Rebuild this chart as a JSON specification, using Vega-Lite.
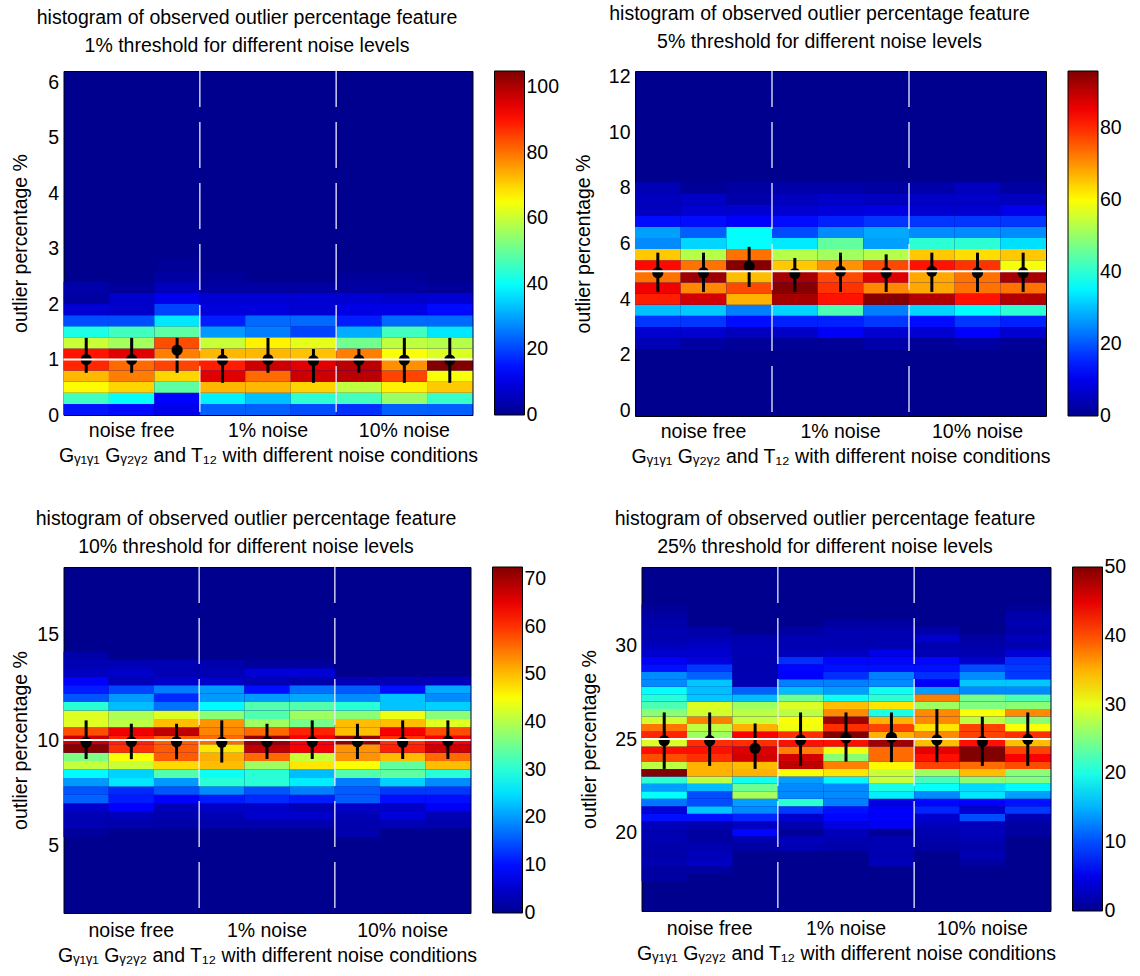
{
  "$schema": "https://vega.github.io/schema/vega-lite/v6.json",
  "background": "white",
  "padding": {"left": 9.5, "top": 3, "right": 0, "bottom": 0},
  "config": {
    "font": "Liberation Sans",
    "view": {"stroke": "black", "strokeWidth": 1, "fill": "#00008F"},
    "axis": {"labelFontSize": 19.5, "titleFontSize": 19.5, "titleFontWeight": "normal", "labelColor": "black", "titleColor": "black", "ticks": false, "tickSize": 0, "domain": false, "grid": false, "labelPadding": 5},
    "legend": {"type": "gradient", "labelFontSize": 19.5, "labelColor": "black", "gradientThickness": 30, "gradientStrokeColor": "black", "gradientStrokeWidth": 1, "offset": 22, "padding": 0, "labelOffset": 5, "labelAlign": "left"},
    "title": {"fontSize": 19.5, "fontWeight": "normal", "color": "black", "lineHeight": 28, "anchor": "middle", "frame": "group", "offset": 14, "dx": -21}
  },
  "datasets": {
    "h1": [
      {"c":1,"lo":0,"hi":0.2,"n":15},{"c":1,"lo":0.2,"hi":0.4,"n":46},{"c":1,"lo":0.4,"hi":0.6,"n":66},{"c":1,"lo":0.6,"hi":0.8,"n":73},{"c":1,"lo":0.8,"hi":1,"n":88},{"c":1,"lo":1,"hi":1.2,"n":90},{"c":1,"lo":1.2,"hi":1.4,"n":60},{"c":1,"lo":1.4,"hi":1.6,"n":42},{"c":1,"lo":1.6,"hi":1.8,"n":21},{"c":1,"lo":1.8,"hi":2,"n":8},{"c":1,"lo":2,"hi":2.2,"n":2},{"c":1,"lo":2.2,"hi":2.4,"n":3},
      {"c":2,"lo":0,"hi":0.2,"n":14},{"c":2,"lo":0.2,"hi":0.4,"n":40},{"c":2,"lo":0.4,"hi":0.6,"n":70},{"c":2,"lo":0.6,"hi":0.8,"n":79},{"c":2,"lo":0.8,"hi":1,"n":81},{"c":2,"lo":1,"hi":1.2,"n":95},{"c":2,"lo":1.2,"hi":1.4,"n":56},{"c":2,"lo":1.4,"hi":1.6,"n":46},{"c":2,"lo":1.6,"hi":1.8,"n":21},{"c":2,"lo":1.8,"hi":2,"n":7},{"c":2,"lo":2,"hi":2.2,"n":7},{"c":2,"lo":2.2,"hi":2.4,"n":1},
      {"c":3,"lo":0,"hi":0.2,"n":11},{"c":3,"lo":0.2,"hi":0.4,"n":13},{"c":3,"lo":0.4,"hi":0.6,"n":49},{"c":3,"lo":0.6,"hi":0.8,"n":70},{"c":3,"lo":0.8,"hi":1,"n":85},{"c":3,"lo":1,"hi":1.2,"n":79},{"c":3,"lo":1.2,"hi":1.4,"n":84},{"c":3,"lo":1.4,"hi":1.6,"n":49},{"c":3,"lo":1.6,"hi":1.8,"n":37},{"c":3,"lo":1.8,"hi":2,"n":20},{"c":3,"lo":2,"hi":2.2,"n":11},{"c":3,"lo":2.2,"hi":2.4,"n":5},{"c":3,"lo":2.4,"hi":2.6,"n":2},{"c":3,"lo":2.6,"hi":2.8,"n":1},
      {"c":4,"lo":0,"hi":0.2,"n":23},{"c":4,"lo":0.2,"hi":0.4,"n":38},{"c":4,"lo":0.4,"hi":0.6,"n":73},{"c":4,"lo":0.6,"hi":0.8,"n":95},{"c":4,"lo":0.8,"hi":1,"n":89},{"c":4,"lo":1,"hi":1.2,"n":73},{"c":4,"lo":1.2,"hi":1.4,"n":60},{"c":4,"lo":1.4,"hi":1.6,"n":29},{"c":4,"lo":1.6,"hi":1.8,"n":16},{"c":4,"lo":1.8,"hi":2,"n":9},{"c":4,"lo":2,"hi":2.2,"n":8},{"c":4,"lo":2.2,"hi":2.4,"n":2},{"c":4,"lo":2.4,"hi":2.6,"n":1},
      {"c":5,"lo":0,"hi":0.2,"n":23},{"c":5,"lo":0.2,"hi":0.4,"n":33},{"c":5,"lo":0.4,"hi":0.6,"n":73},{"c":5,"lo":0.6,"hi":0.8,"n":81},{"c":5,"lo":0.8,"hi":1,"n":97},{"c":5,"lo":1,"hi":1.2,"n":73},{"c":5,"lo":1.2,"hi":1.4,"n":67},{"c":5,"lo":1.4,"hi":1.6,"n":26},{"c":5,"lo":1.6,"hi":1.8,"n":24},{"c":5,"lo":1.8,"hi":2,"n":9},{"c":5,"lo":2,"hi":2.2,"n":8},{"c":5,"lo":2.2,"hi":2.4,"n":2},
      {"c":6,"lo":0,"hi":0.2,"n":21},{"c":6,"lo":0.2,"hi":0.4,"n":44},{"c":6,"lo":0.4,"hi":0.6,"n":70},{"c":6,"lo":0.6,"hi":0.8,"n":97},{"c":6,"lo":0.8,"hi":1,"n":95},{"c":6,"lo":1,"hi":1.2,"n":72},{"c":6,"lo":1.2,"hi":1.4,"n":63},{"c":6,"lo":1.4,"hi":1.6,"n":20},{"c":6,"lo":1.6,"hi":1.8,"n":24},{"c":6,"lo":1.8,"hi":2,"n":8},{"c":6,"lo":2,"hi":2.2,"n":8},{"c":6,"lo":2.2,"hi":2.4,"n":2},
      {"c":7,"lo":0,"hi":0.2,"n":18},{"c":7,"lo":0.2,"hi":0.4,"n":46},{"c":7,"lo":0.4,"hi":0.6,"n":59},{"c":7,"lo":0.6,"hi":0.8,"n":99},{"c":7,"lo":0.8,"hi":1,"n":99},{"c":7,"lo":1,"hi":1.2,"n":79},{"c":7,"lo":1.2,"hi":1.4,"n":51},{"c":7,"lo":1.4,"hi":1.6,"n":31},{"c":7,"lo":1.6,"hi":1.8,"n":16},{"c":7,"lo":1.8,"hi":2,"n":10},{"c":7,"lo":2,"hi":2.2,"n":8},{"c":7,"lo":2.2,"hi":2.4,"n":2},{"c":7,"lo":2.4,"hi":2.6,"n":1},
      {"c":8,"lo":0,"hi":0.2,"n":23},{"c":8,"lo":0.2,"hi":0.4,"n":55},{"c":8,"lo":0.4,"hi":0.6,"n":67},{"c":8,"lo":0.6,"hi":0.8,"n":85},{"c":8,"lo":0.8,"hi":1,"n":77},{"c":8,"lo":1,"hi":1.2,"n":65},{"c":8,"lo":1.2,"hi":1.4,"n":59},{"c":8,"lo":1.4,"hi":1.6,"n":46},{"c":8,"lo":1.6,"hi":1.8,"n":24},{"c":8,"lo":1.8,"hi":2,"n":10},{"c":8,"lo":2,"hi":2.2,"n":7},{"c":8,"lo":2.2,"hi":2.4,"n":2},{"c":8,"lo":2.4,"hi":2.6,"n":1},
      {"c":9,"lo":0,"hi":0.2,"n":23},{"c":9,"lo":0.2,"hi":0.4,"n":45},{"c":9,"lo":0.4,"hi":0.6,"n":71},{"c":9,"lo":0.6,"hi":0.8,"n":65},{"c":9,"lo":0.8,"hi":1,"n":105},{"c":9,"lo":1,"hi":1.2,"n":62},{"c":9,"lo":1.2,"hi":1.4,"n":58},{"c":9,"lo":1.4,"hi":1.6,"n":37},{"c":9,"lo":1.6,"hi":1.8,"n":24},{"c":9,"lo":1.8,"hi":2,"n":14},{"c":9,"lo":2,"hi":2.2,"n":8},{"c":9,"lo":2.2,"hi":2.4,"n":1}
    ],
    "h2": [
      {"c":1,"lo":2.2,"hi":2.6,"n":4},{"c":1,"lo":2.6,"hi":3,"n":7},{"c":1,"lo":3,"hi":3.4,"n":17},{"c":1,"lo":3.4,"hi":3.8,"n":30},{"c":1,"lo":3.8,"hi":4.2,"n":81},{"c":1,"lo":4.2,"hi":4.6,"n":85},{"c":1,"lo":4.6,"hi":5,"n":73},{"c":1,"lo":5,"hi":5.4,"n":83},{"c":1,"lo":5.4,"hi":5.8,"n":65},{"c":1,"lo":5.8,"hi":6.2,"n":25},{"c":1,"lo":6.2,"hi":6.6,"n":27},{"c":1,"lo":6.6,"hi":7,"n":13},{"c":1,"lo":7,"hi":7.4,"n":5},{"c":1,"lo":7.4,"hi":7.8,"n":5},{"c":1,"lo":7.8,"hi":8.2,"n":4},
      {"c":2,"lo":2.2,"hi":2.6,"n":2},{"c":2,"lo":2.6,"hi":3,"n":7},{"c":2,"lo":3,"hi":3.4,"n":17},{"c":2,"lo":3.4,"hi":3.8,"n":31},{"c":2,"lo":3.8,"hi":4.2,"n":88},{"c":2,"lo":4.2,"hi":4.6,"n":71},{"c":2,"lo":4.6,"hi":5,"n":93},{"c":2,"lo":5,"hi":5.4,"n":73},{"c":2,"lo":5.4,"hi":5.8,"n":53},{"c":2,"lo":5.8,"hi":6.2,"n":32},{"c":2,"lo":6.2,"hi":6.6,"n":21},{"c":2,"lo":6.6,"hi":7,"n":13},{"c":2,"lo":7,"hi":7.4,"n":7},{"c":2,"lo":7.4,"hi":7.8,"n":6},{"c":2,"lo":7.8,"hi":8.2,"n":1},
      {"c":3,"lo":2.2,"hi":2.6,"n":1},{"c":3,"lo":2.6,"hi":3,"n":5},{"c":3,"lo":3,"hi":3.4,"n":13},{"c":3,"lo":3.4,"hi":3.8,"n":24},{"c":3,"lo":3.8,"hi":4.2,"n":67},{"c":3,"lo":4.2,"hi":4.6,"n":77},{"c":3,"lo":4.6,"hi":5,"n":66},{"c":3,"lo":5,"hi":5.4,"n":95},{"c":3,"lo":5.4,"hi":5.8,"n":73},{"c":3,"lo":5.8,"hi":6.2,"n":36},{"c":3,"lo":6.2,"hi":6.6,"n":36},{"c":3,"lo":6.6,"hi":7,"n":12},{"c":3,"lo":7,"hi":7.4,"n":7},{"c":3,"lo":7.4,"hi":7.8,"n":3},{"c":3,"lo":7.8,"hi":8.2,"n":2},
      {"c":4,"lo":2.2,"hi":2.6,"n":1},{"c":4,"lo":2.6,"hi":3,"n":6},{"c":4,"lo":3,"hi":3.4,"n":15},{"c":4,"lo":3.4,"hi":3.8,"n":32},{"c":4,"lo":3.8,"hi":4.2,"n":92},{"c":4,"lo":4.2,"hi":4.6,"n":95},{"c":4,"lo":4.6,"hi":5,"n":92},{"c":4,"lo":5,"hi":5.4,"n":65},{"c":4,"lo":5.4,"hi":5.8,"n":53},{"c":4,"lo":5.8,"hi":6.2,"n":34},{"c":4,"lo":6.2,"hi":6.6,"n":19},{"c":4,"lo":6.6,"hi":7,"n":13},{"c":4,"lo":7,"hi":7.4,"n":7},{"c":4,"lo":7.4,"hi":7.8,"n":5},{"c":4,"lo":7.8,"hi":8.2,"n":3},
      {"c":5,"lo":2.2,"hi":2.6,"n":1},{"c":5,"lo":2.6,"hi":3,"n":11},{"c":5,"lo":3,"hi":3.4,"n":15},{"c":5,"lo":3.4,"hi":3.8,"n":43},{"c":5,"lo":3.8,"hi":4.2,"n":82},{"c":5,"lo":4.2,"hi":4.6,"n":79},{"c":5,"lo":4.6,"hi":5,"n":77},{"c":5,"lo":5,"hi":5.4,"n":70},{"c":5,"lo":5.4,"hi":5.8,"n":51},{"c":5,"lo":5.8,"hi":6.2,"n":45},{"c":5,"lo":6.2,"hi":6.6,"n":25},{"c":5,"lo":6.6,"hi":7,"n":15},{"c":5,"lo":7,"hi":7.4,"n":8},{"c":5,"lo":7.4,"hi":7.8,"n":6},{"c":5,"lo":7.8,"hi":8.2,"n":3},
      {"c":6,"lo":2.2,"hi":2.6,"n":3},{"c":6,"lo":2.6,"hi":3,"n":7},{"c":6,"lo":3,"hi":3.4,"n":17},{"c":6,"lo":3.4,"hi":3.8,"n":24},{"c":6,"lo":3.8,"hi":4.2,"n":95},{"c":6,"lo":4.2,"hi":4.6,"n":71},{"c":6,"lo":4.6,"hi":5,"n":87},{"c":6,"lo":5,"hi":5.4,"n":77},{"c":6,"lo":5.4,"hi":5.8,"n":53},{"c":6,"lo":5.8,"hi":6.2,"n":27},{"c":6,"lo":6.2,"hi":6.6,"n":28},{"c":6,"lo":6.6,"hi":7,"n":17},{"c":6,"lo":7,"hi":7.4,"n":9},{"c":6,"lo":7.4,"hi":7.8,"n":5},{"c":6,"lo":7.8,"hi":8.2,"n":2},
      {"c":7,"lo":2.2,"hi":2.6,"n":1},{"c":7,"lo":2.6,"hi":3,"n":7},{"c":7,"lo":3,"hi":3.4,"n":13},{"c":7,"lo":3.4,"hi":3.8,"n":32},{"c":7,"lo":3.8,"hi":4.2,"n":91},{"c":7,"lo":4.2,"hi":4.6,"n":68},{"c":7,"lo":4.6,"hi":5,"n":68},{"c":7,"lo":5,"hi":5.4,"n":82},{"c":7,"lo":5.4,"hi":5.8,"n":65},{"c":7,"lo":5.8,"hi":6.2,"n":40},{"c":7,"lo":6.2,"hi":6.6,"n":25},{"c":7,"lo":6.6,"hi":7,"n":17},{"c":7,"lo":7,"hi":7.4,"n":7},{"c":7,"lo":7.4,"hi":7.8,"n":6},{"c":7,"lo":7.8,"hi":8.2,"n":3},
      {"c":8,"lo":2.2,"hi":2.6,"n":2},{"c":8,"lo":2.6,"hi":3,"n":12},{"c":8,"lo":3,"hi":3.4,"n":17},{"c":8,"lo":3.4,"hi":3.8,"n":36},{"c":8,"lo":3.8,"hi":4.2,"n":82},{"c":8,"lo":4.2,"hi":4.6,"n":73},{"c":8,"lo":4.6,"hi":5,"n":73},{"c":8,"lo":5,"hi":5.4,"n":79},{"c":8,"lo":5.4,"hi":5.8,"n":63},{"c":8,"lo":5.8,"hi":6.2,"n":40},{"c":8,"lo":6.2,"hi":6.6,"n":25},{"c":8,"lo":6.6,"hi":7,"n":17},{"c":8,"lo":7,"hi":7.4,"n":7},{"c":8,"lo":7.4,"hi":7.8,"n":6},{"c":8,"lo":7.8,"hi":8.2,"n":5},
      {"c":9,"lo":2.2,"hi":2.6,"n":1},{"c":9,"lo":2.6,"hi":3,"n":7},{"c":9,"lo":3,"hi":3.4,"n":15},{"c":9,"lo":3.4,"hi":3.8,"n":40},{"c":9,"lo":3.8,"hi":4.2,"n":91},{"c":9,"lo":4.2,"hi":4.6,"n":73},{"c":9,"lo":4.6,"hi":5,"n":92},{"c":9,"lo":5,"hi":5.4,"n":59},{"c":9,"lo":5.4,"hi":5.8,"n":65},{"c":9,"lo":5.8,"hi":6.2,"n":33},{"c":9,"lo":6.2,"hi":6.6,"n":25},{"c":9,"lo":6.6,"hi":7,"n":17},{"c":9,"lo":7,"hi":7.4,"n":10},{"c":9,"lo":7.4,"hi":7.8,"n":5},{"c":9,"lo":7.8,"hi":8.2,"n":2}
    ],
    "h3": [
      {"c":1,"lo":5.4,"hi":5.8,"n":1},{"c":1,"lo":5.8,"hi":6.2,"n":3},{"c":1,"lo":6.2,"hi":6.6,"n":3},{"c":1,"lo":6.6,"hi":7,"n":5},{"c":1,"lo":7,"hi":7.4,"n":16},{"c":1,"lo":7.4,"hi":7.8,"n":15},{"c":1,"lo":7.8,"hi":8.2,"n":20},{"c":1,"lo":8.2,"hi":8.6,"n":27},{"c":1,"lo":8.6,"hi":9,"n":41},{"c":1,"lo":9,"hi":9.4,"n":36},{"c":1,"lo":9.4,"hi":9.8,"n":72},{"c":1,"lo":9.8,"hi":10.2,"n":67},{"c":1,"lo":10.2,"hi":10.6,"n":58},{"c":1,"lo":10.6,"hi":11,"n":43},{"c":1,"lo":11,"hi":11.4,"n":43},{"c":1,"lo":11.4,"hi":11.8,"n":30},{"c":1,"lo":11.8,"hi":12.2,"n":15},{"c":1,"lo":12.2,"hi":12.6,"n":11},{"c":1,"lo":12.6,"hi":13,"n":9},{"c":1,"lo":13,"hi":13.4,"n":4},{"c":1,"lo":13.4,"hi":13.8,"n":3},{"c":1,"lo":13.8,"hi":14.2,"n":2},
      {"c":2,"lo":5.8,"hi":6.2,"n":2.5},{"c":2,"lo":6.2,"hi":6.6,"n":3.5},{"c":2,"lo":6.6,"hi":7,"n":9},{"c":2,"lo":7,"hi":7.4,"n":11},{"c":2,"lo":7.4,"hi":7.8,"n":12},{"c":2,"lo":7.8,"hi":8.2,"n":25.5},{"c":2,"lo":8.2,"hi":8.6,"n":24},{"c":2,"lo":8.6,"hi":9,"n":41.5},{"c":2,"lo":9,"hi":9.4,"n":45},{"c":2,"lo":9.4,"hi":9.8,"n":60},{"c":2,"lo":9.8,"hi":10.2,"n":61},{"c":2,"lo":10.2,"hi":10.6,"n":64.5},{"c":2,"lo":10.6,"hi":11,"n":40.5},{"c":2,"lo":11,"hi":11.4,"n":39.5},{"c":2,"lo":11.4,"hi":11.8,"n":22.5},{"c":2,"lo":11.8,"hi":12.2,"n":20},{"c":2,"lo":12.2,"hi":12.6,"n":14},{"c":2,"lo":12.6,"hi":13,"n":3.5},{"c":2,"lo":13,"hi":13.4,"n":5},{"c":2,"lo":13.4,"hi":13.8,"n":3},
      {"c":3,"lo":5.8,"hi":6.2,"n":2},{"c":3,"lo":6.2,"hi":6.6,"n":2.5},{"c":3,"lo":6.6,"hi":7,"n":3.5},{"c":3,"lo":7,"hi":7.4,"n":9},{"c":3,"lo":7.4,"hi":7.8,"n":15},{"c":3,"lo":7.8,"hi":8.2,"n":20},{"c":3,"lo":8.2,"hi":8.6,"n":33},{"c":3,"lo":8.6,"hi":9,"n":48},{"c":3,"lo":9,"hi":9.4,"n":57},{"c":3,"lo":9.4,"hi":9.8,"n":57},{"c":3,"lo":9.8,"hi":10.2,"n":57},{"c":3,"lo":10.2,"hi":10.6,"n":68},{"c":3,"lo":10.6,"hi":11,"n":50},{"c":3,"lo":11,"hi":11.4,"n":43},{"c":3,"lo":11.4,"hi":11.8,"n":17},{"c":3,"lo":11.8,"hi":12.2,"n":12},{"c":3,"lo":12.2,"hi":12.6,"n":18},{"c":3,"lo":12.6,"hi":13,"n":5},{"c":3,"lo":13,"hi":13.4,"n":3},{"c":3,"lo":13.4,"hi":13.8,"n":3},
      {"c":4,"lo":5.8,"hi":6.2,"n":2.5},{"c":4,"lo":6.2,"hi":6.6,"n":3},{"c":4,"lo":6.6,"hi":7,"n":4.5},{"c":4,"lo":7,"hi":7.4,"n":11},{"c":4,"lo":7.4,"hi":7.8,"n":19},{"c":4,"lo":7.8,"hi":8.2,"n":30},{"c":4,"lo":8.2,"hi":8.6,"n":28},{"c":4,"lo":8.6,"hi":9,"n":50},{"c":4,"lo":9,"hi":9.4,"n":51},{"c":4,"lo":9.4,"hi":9.8,"n":47},{"c":4,"lo":9.8,"hi":10.2,"n":56},{"c":4,"lo":10.2,"hi":10.6,"n":54},{"c":4,"lo":10.6,"hi":11,"n":53},{"c":4,"lo":11,"hi":11.4,"n":37},{"c":4,"lo":11.4,"hi":11.8,"n":27},{"c":4,"lo":11.8,"hi":12.2,"n":20},{"c":4,"lo":12.2,"hi":12.6,"n":20},{"c":4,"lo":12.6,"hi":13,"n":5},{"c":4,"lo":13,"hi":13.4,"n":3},{"c":4,"lo":13.4,"hi":13.8,"n":2.5},
      {"c":5,"lo":5.8,"hi":6.2,"n":2.5},{"c":5,"lo":6.2,"hi":6.6,"n":5},{"c":5,"lo":6.6,"hi":7,"n":4.5},{"c":5,"lo":7,"hi":7.4,"n":12},{"c":5,"lo":7.4,"hi":7.8,"n":15},{"c":5,"lo":7.8,"hi":8.2,"n":30},{"c":5,"lo":8.2,"hi":8.6,"n":30},{"c":5,"lo":8.6,"hi":9,"n":38.5},{"c":5,"lo":9,"hi":9.4,"n":56},{"c":5,"lo":9.4,"hi":9.8,"n":68},{"c":5,"lo":9.8,"hi":10.2,"n":71},{"c":5,"lo":10.2,"hi":10.6,"n":56},{"c":5,"lo":10.6,"hi":11,"n":38.5},{"c":5,"lo":11,"hi":11.4,"n":33},{"c":5,"lo":11.4,"hi":11.8,"n":33},{"c":5,"lo":11.8,"hi":12.2,"n":20},{"c":5,"lo":12.2,"hi":12.6,"n":10},{"c":5,"lo":12.6,"hi":13,"n":3},{"c":5,"lo":13,"hi":13.4,"n":6},{"c":5,"lo":13.4,"hi":13.8,"n":1},
      {"c":6,"lo":5.8,"hi":6.2,"n":2.5},{"c":6,"lo":6.2,"hi":6.6,"n":5},{"c":6,"lo":6.6,"hi":7,"n":3},{"c":6,"lo":7,"hi":7.4,"n":11},{"c":6,"lo":7.4,"hi":7.8,"n":18},{"c":6,"lo":7.8,"hi":8.2,"n":26},{"c":6,"lo":8.2,"hi":8.6,"n":22.5},{"c":6,"lo":8.6,"hi":9,"n":47},{"c":6,"lo":9,"hi":9.4,"n":41.5},{"c":6,"lo":9.4,"hi":9.8,"n":64},{"c":6,"lo":9.8,"hi":10.2,"n":64},{"c":6,"lo":10.2,"hi":10.6,"n":61},{"c":6,"lo":10.6,"hi":11,"n":35.5},{"c":6,"lo":11,"hi":11.4,"n":38.5},{"c":6,"lo":11.4,"hi":11.8,"n":33},{"c":6,"lo":11.8,"hi":12.2,"n":21},{"c":6,"lo":12.2,"hi":12.6,"n":17},{"c":6,"lo":12.6,"hi":13,"n":2.5},{"c":6,"lo":13,"hi":13.4,"n":6},{"c":6,"lo":13.4,"hi":13.8,"n":1},
      {"c":7,"lo":5.4,"hi":5.8,"n":2.5},{"c":7,"lo":5.8,"hi":6.2,"n":2.5},{"c":7,"lo":6.2,"hi":6.6,"n":3},{"c":7,"lo":6.6,"hi":7,"n":4.5},{"c":7,"lo":7,"hi":7.4,"n":15.5},{"c":7,"lo":7.4,"hi":7.8,"n":15.5},{"c":7,"lo":7.8,"hi":8.2,"n":18},{"c":7,"lo":8.2,"hi":8.6,"n":33},{"c":7,"lo":8.6,"hi":9,"n":45},{"c":7,"lo":9,"hi":9.4,"n":53},{"c":7,"lo":9.4,"hi":9.8,"n":53},{"c":7,"lo":9.8,"hi":10.2,"n":71},{"c":7,"lo":10.2,"hi":10.6,"n":50},{"c":7,"lo":10.6,"hi":11,"n":50},{"c":7,"lo":11,"hi":11.4,"n":37},{"c":7,"lo":11.4,"hi":11.8,"n":30},{"c":7,"lo":11.8,"hi":12.2,"n":19},{"c":7,"lo":12.2,"hi":12.6,"n":15.5},{"c":7,"lo":12.6,"hi":13,"n":3},
      {"c":8,"lo":5.8,"hi":6.2,"n":3},{"c":8,"lo":6.2,"hi":6.6,"n":6},{"c":8,"lo":6.6,"hi":7,"n":4.5},{"c":8,"lo":7,"hi":7.4,"n":10},{"c":8,"lo":7.4,"hi":7.8,"n":13},{"c":8,"lo":7.8,"hi":8.2,"n":24},{"c":8,"lo":8.2,"hi":8.6,"n":34},{"c":8,"lo":8.6,"hi":9,"n":34},{"c":8,"lo":9,"hi":9.4,"n":50},{"c":8,"lo":9.4,"hi":9.8,"n":61},{"c":8,"lo":9.8,"hi":10.2,"n":60},{"c":8,"lo":10.2,"hi":10.6,"n":64},{"c":8,"lo":10.6,"hi":11,"n":50},{"c":8,"lo":11,"hi":11.4,"n":44},{"c":8,"lo":11.4,"hi":11.8,"n":23},{"c":8,"lo":11.8,"hi":12.2,"n":23},{"c":8,"lo":12.2,"hi":12.6,"n":10},{"c":8,"lo":12.6,"hi":13,"n":3},
      {"c":9,"lo":5.8,"hi":6.2,"n":2.5},{"c":9,"lo":6.2,"hi":6.6,"n":3},{"c":9,"lo":6.6,"hi":7,"n":8},{"c":9,"lo":7,"hi":7.4,"n":10},{"c":9,"lo":7.4,"hi":7.8,"n":13},{"c":9,"lo":7.8,"hi":8.2,"n":19},{"c":9,"lo":8.2,"hi":8.6,"n":30},{"c":9,"lo":8.6,"hi":9,"n":50},{"c":9,"lo":9,"hi":9.4,"n":56},{"c":9,"lo":9.4,"hi":9.8,"n":67},{"c":9,"lo":9.8,"hi":10.2,"n":64},{"c":9,"lo":10.2,"hi":10.6,"n":58},{"c":9,"lo":10.6,"hi":11,"n":43},{"c":9,"lo":11,"hi":11.4,"n":37},{"c":9,"lo":11.4,"hi":11.8,"n":24},{"c":9,"lo":11.8,"hi":12.2,"n":19},{"c":9,"lo":12.2,"hi":12.6,"n":21},{"c":9,"lo":12.6,"hi":13,"n":3.5}
    ],
    "h4": [
      {"c":1,"lo":17.4,"hi":17.8,"n":1},{"c":1,"lo":17.8,"hi":18.2,"n":1},{"c":1,"lo":18.2,"hi":18.6,"n":2},{"c":1,"lo":18.6,"hi":19,"n":1.5},{"c":1,"lo":19,"hi":19.4,"n":1.5},{"c":1,"lo":19.4,"hi":19.8,"n":2},{"c":1,"lo":19.8,"hi":20.2,"n":2},{"c":1,"lo":20.2,"hi":20.6,"n":2.5},{"c":1,"lo":20.6,"hi":21,"n":7},{"c":1,"lo":21,"hi":21.4,"n":4},{"c":1,"lo":21.4,"hi":21.8,"n":12},{"c":1,"lo":21.8,"hi":22.2,"n":19},{"c":1,"lo":22.2,"hi":22.6,"n":14},{"c":1,"lo":22.6,"hi":23,"n":21},{"c":1,"lo":23,"hi":23.4,"n":50},{"c":1,"lo":23.4,"hi":23.8,"n":28},{"c":1,"lo":23.8,"hi":24.2,"n":40},{"c":1,"lo":24.2,"hi":24.6,"n":43},{"c":1,"lo":24.6,"hi":25,"n":29.5},{"c":1,"lo":25,"hi":25.4,"n":42},{"c":1,"lo":25.4,"hi":25.8,"n":38},{"c":1,"lo":25.8,"hi":26.2,"n":29},{"c":1,"lo":26.2,"hi":26.6,"n":25.5},{"c":1,"lo":26.6,"hi":27,"n":22.5},{"c":1,"lo":27,"hi":27.4,"n":20.5},{"c":1,"lo":27.4,"hi":27.8,"n":19},{"c":1,"lo":27.8,"hi":28.2,"n":13},{"c":1,"lo":28.2,"hi":28.6,"n":13},{"c":1,"lo":28.6,"hi":29,"n":7},{"c":1,"lo":29,"hi":29.4,"n":6},{"c":1,"lo":29.4,"hi":29.8,"n":3.5},{"c":1,"lo":29.8,"hi":30.2,"n":2.5},{"c":1,"lo":30.2,"hi":30.6,"n":2},{"c":1,"lo":30.6,"hi":31,"n":2},{"c":1,"lo":31,"hi":31.4,"n":1.5},{"c":1,"lo":31.4,"hi":31.8,"n":1},{"c":1,"lo":31.8,"hi":32.2,"n":0.5},
      {"c":2,"lo":17.8,"hi":18.2,"n":1},{"c":2,"lo":18.2,"hi":18.6,"n":3},{"c":2,"lo":18.6,"hi":19,"n":2.5},{"c":2,"lo":19,"hi":19.4,"n":2},{"c":2,"lo":19.4,"hi":19.8,"n":1},{"c":2,"lo":19.8,"hi":20.2,"n":1},{"c":2,"lo":20.2,"hi":20.6,"n":2},{"c":2,"lo":20.6,"hi":21,"n":7},{"c":2,"lo":21,"hi":21.4,"n":16},{"c":2,"lo":21.4,"hi":21.8,"n":10},{"c":2,"lo":21.8,"hi":22.2,"n":10},{"c":2,"lo":22.2,"hi":22.6,"n":15.5},{"c":2,"lo":22.6,"hi":23,"n":28},{"c":2,"lo":23,"hi":23.4,"n":35},{"c":2,"lo":23.4,"hi":23.8,"n":35},{"c":2,"lo":23.8,"hi":24.2,"n":41.5},{"c":2,"lo":24.2,"hi":24.6,"n":43},{"c":2,"lo":24.6,"hi":25,"n":41.5},{"c":2,"lo":25,"hi":25.4,"n":26.5},{"c":2,"lo":25.4,"hi":25.8,"n":28},{"c":2,"lo":25.8,"hi":26.2,"n":37.5},{"c":2,"lo":26.2,"hi":26.6,"n":29},{"c":2,"lo":26.6,"hi":27,"n":29.5},{"c":2,"lo":27,"hi":27.4,"n":16},{"c":2,"lo":27.4,"hi":27.8,"n":15.5},{"c":2,"lo":27.8,"hi":28.2,"n":16},{"c":2,"lo":28.2,"hi":28.6,"n":11},{"c":2,"lo":28.6,"hi":29,"n":9},{"c":2,"lo":29,"hi":29.4,"n":4.5},{"c":2,"lo":29.4,"hi":29.8,"n":3.5},{"c":2,"lo":29.8,"hi":30.2,"n":3},{"c":2,"lo":30.2,"hi":30.6,"n":2},{"c":2,"lo":30.6,"hi":31,"n":1.5},
      {"c":3,"lo":19,"hi":19.4,"n":1},{"c":3,"lo":19.4,"hi":19.8,"n":2},{"c":3,"lo":19.8,"hi":20.2,"n":6.5},{"c":3,"lo":20.2,"hi":20.6,"n":3},{"c":3,"lo":20.6,"hi":21,"n":8},{"c":3,"lo":21,"hi":21.4,"n":13},{"c":3,"lo":21.4,"hi":21.8,"n":14},{"c":3,"lo":21.8,"hi":22.2,"n":27},{"c":3,"lo":22.2,"hi":22.6,"n":24},{"c":3,"lo":22.6,"hi":23,"n":19.5},{"c":3,"lo":23,"hi":23.4,"n":35},{"c":3,"lo":23.4,"hi":23.8,"n":34.5},{"c":3,"lo":23.8,"hi":24.2,"n":46},{"c":3,"lo":24.2,"hi":24.6,"n":45.5},{"c":3,"lo":24.6,"hi":25,"n":41.5},{"c":3,"lo":25,"hi":25.4,"n":44},{"c":3,"lo":25.4,"hi":25.8,"n":35},{"c":3,"lo":25.8,"hi":26.2,"n":28.5},{"c":3,"lo":26.2,"hi":26.6,"n":28},{"c":3,"lo":26.6,"hi":27,"n":26.5},{"c":3,"lo":27,"hi":27.4,"n":15.5},{"c":3,"lo":27.4,"hi":27.8,"n":11},{"c":3,"lo":27.8,"hi":28.2,"n":2},{"c":3,"lo":28.2,"hi":28.6,"n":2},{"c":3,"lo":28.6,"hi":29,"n":2},{"c":3,"lo":29,"hi":29.4,"n":2},{"c":3,"lo":29.4,"hi":29.8,"n":2},{"c":3,"lo":29.8,"hi":30.2,"n":2},{"c":3,"lo":30.2,"hi":30.6,"n":1.5},
      {"c":4,"lo":19,"hi":19.4,"n":2},{"c":4,"lo":19.4,"hi":19.8,"n":2.5},{"c":4,"lo":19.8,"hi":20.2,"n":0.5},{"c":4,"lo":20.2,"hi":20.6,"n":2},{"c":4,"lo":20.6,"hi":21,"n":3.5},{"c":4,"lo":21,"hi":21.4,"n":9},{"c":4,"lo":21.4,"hi":21.8,"n":21},{"c":4,"lo":21.8,"hi":22.2,"n":13},{"c":4,"lo":22.2,"hi":22.6,"n":13},{"c":4,"lo":22.6,"hi":23,"n":14},{"c":4,"lo":23,"hi":23.4,"n":31},{"c":4,"lo":23.4,"hi":23.8,"n":47},{"c":4,"lo":23.8,"hi":24.2,"n":46},{"c":4,"lo":24.2,"hi":24.6,"n":37.5},{"c":4,"lo":24.6,"hi":25,"n":43},{"c":4,"lo":25,"hi":25.4,"n":41.5},{"c":4,"lo":25.4,"hi":25.8,"n":30.5},{"c":4,"lo":25.8,"hi":26.2,"n":31},{"c":4,"lo":26.2,"hi":26.6,"n":28},{"c":4,"lo":26.6,"hi":27,"n":29.5},{"c":4,"lo":27,"hi":27.4,"n":24},{"c":4,"lo":27.4,"hi":27.8,"n":15.5},{"c":4,"lo":27.8,"hi":28.2,"n":12.5},{"c":4,"lo":28.2,"hi":28.6,"n":6},{"c":4,"lo":28.6,"hi":29,"n":6.5},{"c":4,"lo":29,"hi":29.4,"n":8.5},{"c":4,"lo":29.4,"hi":29.8,"n":2.5},{"c":4,"lo":29.8,"hi":30.2,"n":2},{"c":4,"lo":30.2,"hi":30.6,"n":2},{"c":4,"lo":30.6,"hi":31,"n":1},
      {"c":5,"lo":19,"hi":19.4,"n":1.5},{"c":5,"lo":19.4,"hi":19.8,"n":2},{"c":5,"lo":19.8,"hi":20.2,"n":2.5},{"c":5,"lo":20.2,"hi":20.6,"n":4.5},{"c":5,"lo":20.6,"hi":21,"n":6.5},{"c":5,"lo":21,"hi":21.4,"n":7},{"c":5,"lo":21.4,"hi":21.8,"n":12.5},{"c":5,"lo":21.8,"hi":22.2,"n":13},{"c":5,"lo":22.2,"hi":22.6,"n":13},{"c":5,"lo":22.6,"hi":23,"n":18.5},{"c":5,"lo":23,"hi":23.4,"n":32.5},{"c":5,"lo":23.4,"hi":23.8,"n":37.5},{"c":5,"lo":23.8,"hi":24.2,"n":25.5},{"c":5,"lo":24.2,"hi":24.6,"n":30.5},{"c":5,"lo":24.6,"hi":25,"n":43},{"c":5,"lo":25,"hi":25.4,"n":50},{"c":5,"lo":25.4,"hi":25.8,"n":41.5},{"c":5,"lo":25.8,"hi":26.2,"n":48.5},{"c":5,"lo":26.2,"hi":26.6,"n":37},{"c":5,"lo":26.6,"hi":27,"n":34.5},{"c":5,"lo":27,"hi":27.4,"n":19.5},{"c":5,"lo":27.4,"hi":27.8,"n":14},{"c":5,"lo":27.8,"hi":28.2,"n":12.5},{"c":5,"lo":28.2,"hi":28.6,"n":8.5},{"c":5,"lo":28.6,"hi":29,"n":7},{"c":5,"lo":29,"hi":29.4,"n":6.5},{"c":5,"lo":29.4,"hi":29.8,"n":3},{"c":5,"lo":29.8,"hi":30.2,"n":2},{"c":5,"lo":30.2,"hi":30.6,"n":2},{"c":5,"lo":30.6,"hi":31,"n":2},{"c":5,"lo":31,"hi":31.4,"n":1},
      {"c":6,"lo":18.2,"hi":18.6,"n":2.5},{"c":6,"lo":18.6,"hi":19,"n":2},{"c":6,"lo":19,"hi":19.4,"n":2},{"c":6,"lo":19.4,"hi":19.8,"n":2},{"c":6,"lo":19.8,"hi":20.2,"n":0.5},{"c":6,"lo":20.2,"hi":20.6,"n":5.5},{"c":6,"lo":20.6,"hi":21,"n":6},{"c":6,"lo":21,"hi":21.4,"n":6},{"c":6,"lo":21.4,"hi":21.8,"n":4.5},{"c":6,"lo":21.8,"hi":22.2,"n":18},{"c":6,"lo":22.2,"hi":22.6,"n":20},{"c":6,"lo":22.6,"hi":23,"n":28.5},{"c":6,"lo":23,"hi":23.4,"n":28.5},{"c":6,"lo":23.4,"hi":23.8,"n":31.5},{"c":6,"lo":23.8,"hi":24.2,"n":38.5},{"c":6,"lo":24.2,"hi":24.6,"n":38.5},{"c":6,"lo":24.6,"hi":25,"n":48.5},{"c":6,"lo":25,"hi":25.4,"n":35},{"c":6,"lo":25.4,"hi":25.8,"n":40.5},{"c":6,"lo":25.8,"hi":26.2,"n":35},{"c":6,"lo":26.2,"hi":26.6,"n":20},{"c":6,"lo":26.6,"hi":27,"n":32.5},{"c":6,"lo":27,"hi":27.4,"n":21},{"c":6,"lo":27.4,"hi":27.8,"n":19.5},{"c":6,"lo":27.8,"hi":28.2,"n":13},{"c":6,"lo":28.2,"hi":28.6,"n":12.5},{"c":6,"lo":28.6,"hi":29,"n":7},{"c":6,"lo":29,"hi":29.4,"n":6.5},{"c":6,"lo":29.4,"hi":29.8,"n":5},{"c":6,"lo":29.8,"hi":30.2,"n":2},{"c":6,"lo":30.2,"hi":30.6,"n":2},{"c":6,"lo":30.6,"hi":31,"n":2},{"c":6,"lo":31,"hi":31.4,"n":1},
      {"c":7,"lo":19,"hi":19.4,"n":1},{"c":7,"lo":19.4,"hi":19.8,"n":1.5},{"c":7,"lo":19.8,"hi":20.2,"n":2},{"c":7,"lo":20.2,"hi":20.6,"n":2.5},{"c":7,"lo":20.6,"hi":21,"n":3.5},{"c":7,"lo":21,"hi":21.4,"n":8},{"c":7,"lo":21.4,"hi":21.8,"n":6.5},{"c":7,"lo":21.8,"hi":22.2,"n":13},{"c":7,"lo":22.2,"hi":22.6,"n":19},{"c":7,"lo":22.6,"hi":23,"n":22},{"c":7,"lo":23,"hi":23.4,"n":26.5},{"c":7,"lo":23.4,"hi":23.8,"n":40.5},{"c":7,"lo":23.8,"hi":24.2,"n":43},{"c":7,"lo":24.2,"hi":24.6,"n":45},{"c":7,"lo":24.6,"hi":25,"n":34.5},{"c":7,"lo":25,"hi":25.4,"n":37},{"c":7,"lo":25.4,"hi":25.8,"n":32.5},{"c":7,"lo":25.8,"hi":26.2,"n":37},{"c":7,"lo":26.2,"hi":26.6,"n":37},{"c":7,"lo":26.6,"hi":27,"n":26.5},{"c":7,"lo":27,"hi":27.4,"n":37.5},{"c":7,"lo":27.4,"hi":27.8,"n":14},{"c":7,"lo":27.8,"hi":28.2,"n":6},{"c":7,"lo":28.2,"hi":28.6,"n":8.5},{"c":7,"lo":28.6,"hi":29,"n":7},{"c":7,"lo":29,"hi":29.4,"n":6.5},{"c":7,"lo":29.4,"hi":29.8,"n":2},{"c":7,"lo":29.8,"hi":30.2,"n":2},{"c":7,"lo":30.2,"hi":30.6,"n":3.5},{"c":7,"lo":30.6,"hi":31,"n":1.5},
      {"c":8,"lo":18.2,"hi":18.6,"n":1},{"c":8,"lo":18.6,"hi":19,"n":2},{"c":8,"lo":19,"hi":19.4,"n":1.5},{"c":8,"lo":19.4,"hi":19.8,"n":2},{"c":8,"lo":19.8,"hi":20.2,"n":2.5},{"c":8,"lo":20.2,"hi":20.6,"n":2.5},{"c":8,"lo":20.6,"hi":21,"n":10},{"c":8,"lo":21,"hi":21.4,"n":3.5},{"c":8,"lo":21.4,"hi":21.8,"n":6},{"c":8,"lo":21.8,"hi":22.2,"n":17.5},{"c":8,"lo":22.2,"hi":22.6,"n":17},{"c":8,"lo":22.6,"hi":23,"n":25.5},{"c":8,"lo":23,"hi":23.4,"n":34.5},{"c":8,"lo":23.4,"hi":23.8,"n":38.5},{"c":8,"lo":23.8,"hi":24.2,"n":50},{"c":8,"lo":24.2,"hi":24.6,"n":50},{"c":8,"lo":24.6,"hi":25,"n":43},{"c":8,"lo":25,"hi":25.4,"n":40.5},{"c":8,"lo":25.4,"hi":25.8,"n":40.5},{"c":8,"lo":25.8,"hi":26.2,"n":28},{"c":8,"lo":26.2,"hi":26.6,"n":31},{"c":8,"lo":26.6,"hi":27,"n":25},{"c":8,"lo":27,"hi":27.4,"n":24.5},{"c":8,"lo":27.4,"hi":27.8,"n":13},{"c":8,"lo":27.8,"hi":28.2,"n":16},{"c":8,"lo":28.2,"hi":28.6,"n":13},{"c":8,"lo":28.6,"hi":29,"n":10},{"c":8,"lo":29,"hi":29.4,"n":3.5},{"c":8,"lo":29.4,"hi":29.8,"n":2},{"c":8,"lo":29.8,"hi":30.2,"n":1.5},{"c":8,"lo":30.2,"hi":30.6,"n":1},
      {"c":9,"lo":19.8,"hi":20.2,"n":1},{"c":9,"lo":20.2,"hi":20.6,"n":1},{"c":9,"lo":20.6,"hi":21,"n":2},{"c":9,"lo":21,"hi":21.4,"n":9},{"c":9,"lo":21.4,"hi":21.8,"n":7},{"c":9,"lo":21.8,"hi":22.2,"n":14},{"c":9,"lo":22.2,"hi":22.6,"n":18.5},{"c":9,"lo":22.6,"hi":23,"n":25},{"c":9,"lo":23,"hi":23.4,"n":25.5},{"c":9,"lo":23.4,"hi":23.8,"n":40},{"c":9,"lo":23.8,"hi":24.2,"n":44},{"c":9,"lo":24.2,"hi":24.6,"n":40.5},{"c":9,"lo":24.6,"hi":25,"n":34.5},{"c":9,"lo":25,"hi":25.4,"n":41.5},{"c":9,"lo":25.4,"hi":25.8,"n":31},{"c":9,"lo":25.8,"hi":26.2,"n":25.5},{"c":9,"lo":26.2,"hi":26.6,"n":37},{"c":9,"lo":26.6,"hi":27,"n":25.5},{"c":9,"lo":27,"hi":27.4,"n":22.5},{"c":9,"lo":27.4,"hi":27.8,"n":13},{"c":9,"lo":27.8,"hi":28.2,"n":16},{"c":9,"lo":28.2,"hi":28.6,"n":9},{"c":9,"lo":28.6,"hi":29,"n":9},{"c":9,"lo":29,"hi":29.4,"n":8.5},{"c":9,"lo":29.4,"hi":29.8,"n":4},{"c":9,"lo":29.8,"hi":30.2,"n":2},{"c":9,"lo":30.2,"hi":30.6,"n":2.5},{"c":9,"lo":30.6,"hi":31,"n":1.5},{"c":9,"lo":31,"hi":31.4,"n":2},{"c":9,"lo":31.4,"hi":31.8,"n":1.5},{"c":9,"lo":31.8,"hi":32.2,"n":0.5}
    ],
    "e1": [
      {"c":1,"m":1.0,"lo":0.76,"hi":1.39},{"c":2,"m":1.0,"lo":0.76,"hi":1.39},{"c":3,"m":1.17,"lo":0.76,"hi":1.39},{"c":4,"m":0.99,"lo":0.58,"hi":1.19},{"c":5,"m":1.0,"lo":0.76,"hi":1.39},{"c":6,"m":0.98,"lo":0.58,"hi":1.19},{"c":7,"m":0.99,"lo":0.76,"hi":1.19},{"c":8,"m":0.99,"lo":0.58,"hi":1.39},{"c":9,"m":0.99,"lo":0.58,"hi":1.39}
    ],
    "e2": [
      {"c":1,"m":4.95,"lo":4.26,"hi":5.67},{"c":2,"m":4.95,"lo":4.26,"hi":5.67},{"c":3,"m":5.18,"lo":4.44,"hi":5.88},{"c":4,"m":4.92,"lo":4.26,"hi":5.48},{"c":5,"m":5.0,"lo":4.26,"hi":5.67},{"c":6,"m":4.95,"lo":4.26,"hi":5.61},{"c":7,"m":5.0,"lo":4.26,"hi":5.67},{"c":8,"m":4.95,"lo":4.26,"hi":5.67},{"c":9,"m":4.95,"lo":4.26,"hi":5.67}
    ],
    "e3": [
      {"c":1,"m":9.89,"lo":9.1,"hi":10.93},{"c":2,"m":9.92,"lo":9.09,"hi":10.77},{"c":3,"m":9.92,"lo":9.09,"hi":10.77},{"c":4,"m":9.89,"lo":8.93,"hi":10.93},{"c":5,"m":9.92,"lo":9.1,"hi":10.77},{"c":6,"m":9.92,"lo":9.1,"hi":10.93},{"c":7,"m":9.92,"lo":9.1,"hi":10.77},{"c":8,"m":9.89,"lo":9.1,"hi":10.93},{"c":9,"m":9.95,"lo":9.1,"hi":10.93}
    ],
    "e4": [
      {"c":1,"m":24.91,"lo":23.4,"hi":26.42},{"c":2,"m":24.91,"lo":23.56,"hi":26.42},{"c":3,"m":24.5,"lo":23.4,"hi":25.83},{"c":4,"m":24.95,"lo":23.56,"hi":26.42},{"c":5,"m":25.05,"lo":23.79,"hi":26.42},{"c":6,"m":25.09,"lo":23.76,"hi":26.42},{"c":7,"m":24.95,"lo":23.76,"hi":26.6},{"c":8,"m":24.86,"lo":23.56,"hi":26.19},{"c":9,"m":24.98,"lo":23.56,"hi":26.42}
    ]
  },
  "vconcat": [
    {
      "hconcat": [
        {
          "width": 409, "height": 344,
          "title": {"text": ["histogram of observed outlier percentage feature", "1% threshold for different noise levels"]},
          "layer": [
            {
              "data": {"name": "h1"},
              "mark": {"type": "rect"},
              "encoding": {
                "x": {"field": "c", "type": "ordinal", "scale": {"domain": [1,2,3,4,5,6,7,8,9], "paddingInner": 0, "paddingOuter": 0},
                      "axis": {"values": [2,5,8], "labelExpr": "datum.value == 2 ? 'noise free' : datum.value == 5 ? '1% noise' : '10% noise'", "labelAngle": 0, "labelPadding": 6, "title": "Gᵧ₁ᵧ₁ Gᵧ₂ᵧ₂ and T₁₂ with different noise conditions", "titlePadding": 7}},
                "y": {"field": "lo", "type": "quantitative", "scale": {"domain": [0, 6.2], "nice": false, "zero": false},
                      "axis": {"values": [0,1,2,3,4,5,6], "format": "d", "title": "outlier percentage %", "titlePadding": 17.5}},
                "y2": {"field": "hi"},
                "color": {"field": "n", "type": "quantitative",
                          "scale": {"domain": [-0.05, 13.125, 39.375, 65.625, 91.875, 105], "range": ["#00008F", "#0000FF", "#00FFFF", "#FFFF00", "#FF0000", "#800000"], "interpolate": "rgb"},
                          "legend": {"type": "gradient", "title": null, "values": [0,20,40,60,80,100], "gradientLength": 344}}
              }
            },
            {
              "data": {"name": "e1"},
              "mark": {"type": "rule", "color": "black", "strokeWidth": 3},
              "encoding": {"x": {"field": "c", "type": "ordinal"}, "y": {"field": "lo", "type": "quantitative"}, "y2": {"field": "hi"}}
            },
            {
              "data": {"name": "e1"},
              "mark": {"type": "point", "filled": true, "color": "black", "opacity": 1, "size": 125},
              "encoding": {"x": {"field": "c", "type": "ordinal"}, "y": {"field": "m", "type": "quantitative"}}
            },
            {
              "data": {"values": [{"t": 1}]},
              "mark": {"type": "rule", "color": "white", "strokeWidth": 2},
              "encoding": {"y": {"field": "t", "type": "quantitative"}}
            },
            {
              "data": {"values": [{"c": 4}, {"c": 7}]},
              "mark": {"type": "rule", "color": "#F0F0FF", "strokeWidth": 1.5, "opacity": 0.85, "strokeDash": [46, 15], "strokeDashOffset": 10},
              "encoding": {"x": {"field": "c", "type": "ordinal", "bandPosition": 0}, "y": {"datum": 6.2}, "y2": {"datum": 0}}
            }
          ]
        },
        {
          "width": 411, "height": 345,
          "title": {"text": ["histogram of observed outlier percentage feature", "5% threshold for different noise levels"]},
          "layer": [
            {
              "data": {"name": "h2"},
              "mark": {"type": "rect"},
              "encoding": {
                "x": {"field": "c", "type": "ordinal", "scale": {"domain": [1,2,3,4,5,6,7,8,9], "paddingInner": 0, "paddingOuter": 0},
                      "axis": {"values": [2,5,8], "labelExpr": "datum.value == 2 ? 'noise free' : datum.value == 5 ? '1% noise' : '10% noise'", "labelAngle": 0, "labelPadding": 6, "title": "Gᵧ₁ᵧ₁ Gᵧ₂ᵧ₂ and T₁₂ with different noise conditions", "titlePadding": 7}},
                "y": {"field": "lo", "type": "quantitative", "scale": {"domain": [-0.2, 12.2], "nice": false, "zero": false},
                      "axis": {"values": [0,2,4,6,8,10,12], "format": "d", "title": "outlier percentage %", "titlePadding": 15}},
                "y2": {"field": "hi"},
                "color": {"field": "n", "type": "quantitative",
                          "scale": {"domain": [-0.05, 11.96, 35.89, 59.81, 83.74, 95.7], "range": ["#00008F", "#0000FF", "#00FFFF", "#FFFF00", "#FF0000", "#800000"], "interpolate": "rgb"},
                          "legend": {"type": "gradient", "title": null, "values": [0,20,40,60,80], "gradientLength": 345}}
              }
            },
            {
              "data": {"name": "e2"},
              "mark": {"type": "rule", "color": "black", "strokeWidth": 3},
              "encoding": {"x": {"field": "c", "type": "ordinal"}, "y": {"field": "lo", "type": "quantitative"}, "y2": {"field": "hi"}}
            },
            {
              "data": {"name": "e2"},
              "mark": {"type": "point", "filled": true, "color": "black", "opacity": 1, "size": 125},
              "encoding": {"x": {"field": "c", "type": "ordinal"}, "y": {"field": "m", "type": "quantitative"}}
            },
            {
              "data": {"values": [{"t": 5}]},
              "mark": {"type": "rule", "color": "white", "strokeWidth": 2},
              "encoding": {"y": {"field": "t", "type": "quantitative"}}
            },
            {
              "data": {"values": [{"c": 4}, {"c": 7}]},
              "mark": {"type": "rule", "color": "#F0F0FF", "strokeWidth": 1.5, "opacity": 0.85, "strokeDash": [46, 15], "strokeDashOffset": 10},
              "encoding": {"x": {"field": "c", "type": "ordinal", "bandPosition": 0}, "y": {"datum": 12.2}, "y2": {"datum": -0.2}}
            }
          ]
        }
      ],
      "spacing": 11.5,
      "resolve": {"scale": {"x": "independent", "y": "independent", "color": "independent"}, "legend": {"color": "independent"}}
    },
    {
      "hconcat": [
        {
          "width": 407, "height": 346,
          "title": {"text": ["histogram of observed outlier percentage feature", "10% threshold for different noise levels"], "offset": 9},
          "layer": [
            {
              "data": {"name": "h3"},
              "mark": {"type": "rect"},
              "encoding": {
                "x": {"field": "c", "type": "ordinal", "scale": {"domain": [1,2,3,4,5,6,7,8,9], "paddingInner": 0, "paddingOuter": 0},
                      "axis": {"values": [2,5,8], "labelExpr": "datum.value == 2 ? 'noise free' : datum.value == 5 ? '1% noise' : '10% noise'", "labelAngle": 0, "labelPadding": 8, "title": "Gᵧ₁ᵧ₁ Gᵧ₂ᵧ₂ and T₁₂ with different noise conditions", "titlePadding": 7}},
                "y": {"field": "lo", "type": "quantitative", "scale": {"domain": [1.8, 18.2], "nice": false, "zero": false},
                      "axis": {"values": [5,10,15], "format": "d", "title": "outlier percentage %", "titlePadding": 6.5}},
                "y2": {"field": "hi"},
                "color": {"field": "n", "type": "quantitative",
                          "scale": {"domain": [-0.05, 9.06, 27.19, 45.31, 63.44, 72.5], "range": ["#00008F", "#0000FF", "#00FFFF", "#FFFF00", "#FF0000", "#800000"], "interpolate": "rgb"},
                          "legend": {"type": "gradient", "title": null, "values": [0,10,20,30,40,50,60,70], "gradientLength": 346}}
              }
            },
            {
              "data": {"name": "e3"},
              "mark": {"type": "rule", "color": "black", "strokeWidth": 3},
              "encoding": {"x": {"field": "c", "type": "ordinal"}, "y": {"field": "lo", "type": "quantitative"}, "y2": {"field": "hi"}}
            },
            {
              "data": {"name": "e3"},
              "mark": {"type": "point", "filled": true, "color": "black", "opacity": 1, "size": 125},
              "encoding": {"x": {"field": "c", "type": "ordinal"}, "y": {"field": "m", "type": "quantitative"}}
            },
            {
              "data": {"values": [{"t": 10}]},
              "mark": {"type": "rule", "color": "white", "strokeWidth": 2},
              "encoding": {"y": {"field": "t", "type": "quantitative"}}
            },
            {
              "data": {"values": [{"c": 4}, {"c": 7}]},
              "mark": {"type": "rule", "color": "#F0F0FF", "strokeWidth": 1.5, "opacity": 0.85, "strokeDash": [46, 15], "strokeDashOffset": 10},
              "encoding": {"x": {"field": "c", "type": "ordinal", "bandPosition": 0}, "y": {"datum": 18.2}, "y2": {"datum": 1.8}}
            }
          ]
        },
        {
          "width": 409, "height": 344,
          "title": {"text": ["histogram of observed outlier percentage feature", "25% threshold for different noise levels"], "offset": 9},
          "layer": [
            {
              "data": {"name": "h4"},
              "mark": {"type": "rect"},
              "encoding": {
                "x": {"field": "c", "type": "ordinal", "scale": {"domain": [1,2,3,4,5,6,7,8,9], "paddingInner": 0, "paddingOuter": 0},
                      "axis": {"values": [2,5,8], "labelExpr": "datum.value == 2 ? 'noise free' : datum.value == 5 ? '1% noise' : '10% noise'", "labelAngle": 0, "labelPadding": 8, "title": "Gᵧ₁ᵧ₁ Gᵧ₂ᵧ₂ and T₁₂ with different noise conditions", "titlePadding": 7}},
                "y": {"field": "lo", "type": "quantitative", "scale": {"domain": [15.8, 34.2], "nice": false, "zero": false},
                      "axis": {"values": [20,25,30], "format": "d", "title": "outlier percentage %", "titlePadding": 15}},
                "y2": {"field": "hi"},
                "color": {"field": "n", "type": "quantitative",
                          "scale": {"domain": [-0.05, 6.25, 18.75, 31.25, 43.75, 50.05], "range": ["#00008F", "#0000FF", "#00FFFF", "#FFFF00", "#FF0000", "#800000"], "interpolate": "rgb"},
                          "legend": {"type": "gradient", "title": null, "values": [0,10,20,30,40,50], "gradientLength": 344}}
              }
            },
            {
              "data": {"name": "e4"},
              "mark": {"type": "rule", "color": "black", "strokeWidth": 3},
              "encoding": {"x": {"field": "c", "type": "ordinal"}, "y": {"field": "lo", "type": "quantitative"}, "y2": {"field": "hi"}}
            },
            {
              "data": {"name": "e4"},
              "mark": {"type": "point", "filled": true, "color": "black", "opacity": 1, "size": 125},
              "encoding": {"x": {"field": "c", "type": "ordinal"}, "y": {"field": "m", "type": "quantitative"}}
            },
            {
              "data": {"values": [{"t": 25}]},
              "mark": {"type": "rule", "color": "white", "strokeWidth": 2},
              "encoding": {"y": {"field": "t", "type": "quantitative"}}
            },
            {
              "data": {"values": [{"c": 4}, {"c": 7}]},
              "mark": {"type": "rule", "color": "#F0F0FF", "strokeWidth": 1.5, "opacity": 0.85, "strokeDash": [46, 15], "strokeDashOffset": 10},
              "encoding": {"x": {"field": "c", "type": "ordinal", "bandPosition": 0}, "y": {"datum": 34.2}, "y2": {"datum": 15.8}}
            }
          ]
        }
      ],
      "spacing": 31,
      "resolve": {"scale": {"x": "independent", "y": "independent", "color": "independent"}, "legend": {"color": "independent"}}
    }
  ],
  "spacing": 41,
  "resolve": {"scale": {"x": "independent", "y": "independent", "color": "independent"}, "legend": {"color": "independent"}}
}
